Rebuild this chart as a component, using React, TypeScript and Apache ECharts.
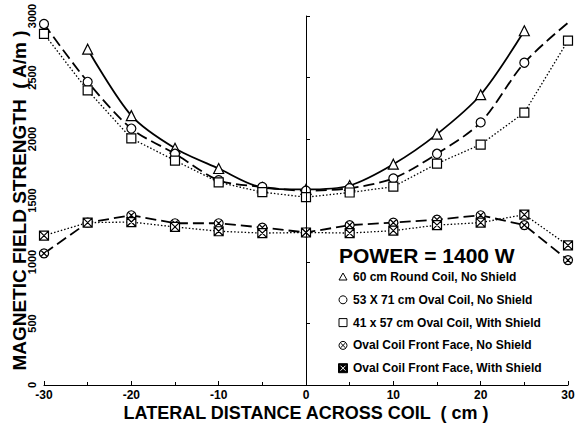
import React, { useEffect, useRef } from "react";
import * as echarts from "echarts";

const xs = [-30, -25, -20, -15, -10, -5, 0, 5, 10, 15, 20, 25, 30];
const roundNoShield = [null, 2730, 2190, 1925, 1760, 1605, 1590, 1622, 1795, 2040, 2360, 2880, null];
const ovalNoShield = [2935, 2465, 2085, 1880, 1665, 1610, 1580, 1600, 1680, 1880, 2135, 2620, 2945];
const ovalWithShield = [2855, 2395, 2005, 1825, 1648, 1568, 1527, 1565, 1612, 1800, 1955, 2215, 2800];
const frontNoShield = [1070, 1320, 1380, 1315, 1315, 1280, 1240, 1300, 1320, 1345, 1380, 1300, 1015];
const frontWithShield = [1215, 1320, 1325, 1285, 1250, 1235, 1240, 1235, 1255, 1300, 1320, 1385, 1135];
const legendLabels = [
  "60 cm Round Coil, No Shield",
  "53 X 71 cm Oval Coil, No Shield",
  "41 x 57 cm Oval Coil, With Shield",
  "Oval Coil Front Face, No Shield",
  "Oval Coil Front Face, With Shield",
];
const powerLabel = "POWER = 1400 W";
const xName = "LATERAL DISTANCE ACROSS COIL  ( cm )";
const yName = "MAGNETIC FIELD STRENGTH  ( A/m )";

const FONT = "'Liberation Sans', Arial, sans-serif";
const CIRCLE_X = "path://M10,0A10,10 0 1,1 9.99,0ZM2.93,2.93L17.07,17.07M17.07,2.93L2.93,17.07";
const SQUARE_X = "path://M0,0H20V20H0ZM0,0L20,20M20,0L0,20";

function pairs(vals: (number | null)[], noSymbolAt: number[] = []) {
  const out: any[] = [];
  vals.forEach((v, i) => {
    if (v === null) return;
    if (noSymbolAt.includes(xs[i])) out.push({ value: [xs[i], v], symbol: "none" });
    else out.push([xs[i], v]);
  });
  return out;
}

export default function App() {
  const ref = useRef<HTMLDivElement>(null);
  useEffect(() => {
    if (!ref.current) return;
    const chart = echarts.init(ref.current, null, { renderer: "svg" });
    const itemStyle = { color: "#fff", borderColor: "#000", borderWidth: 1.2 };
    const legendX = 343;
    const legendY0 = 277;
    const dy = 22.8;
    const graphics: any[] = [
      {
        type: "text",
        x: 339,
        y: 255,
        style: { text: powerLabel, font: `bold 21px ${FONT}`, fill: "#000", textVerticalAlign: "middle" },
      },
    ];
    legendLabels.forEach((t, i) => {
      graphics.push({
        type: "text",
        x: 353,
        y: legendY0 + i * dy,
        style: { text: t, font: `bold 12px ${FONT}`, fill: "#000", textVerticalAlign: "middle" },
      });
    });
    const s = 4;
    const y = (i: number) => legendY0 + i * dy;
    graphics.push(
      {
        type: "polygon",
        shape: { points: [[legendX, y(0) - s], [legendX - s, y(0) + s - 1], [legendX + s, y(0) + s - 1]] },
        style: { fill: "#fff", stroke: "#000", lineWidth: 1 },
      },
      { type: "circle", shape: { cx: legendX, cy: y(1), r: s }, style: { fill: "#fff", stroke: "#000", lineWidth: 1 } },
      { type: "rect", shape: { x: legendX - s, y: y(2) - s, width: 2 * s, height: 2 * s }, style: { fill: "#fff", stroke: "#000", lineWidth: 1 } },
      { type: "circle", shape: { cx: legendX, cy: y(3), r: s }, style: { fill: "#fff", stroke: "#000", lineWidth: 1 } },
      { type: "line", shape: { x1: legendX - 2.8, y1: y(3) - 2.8, x2: legendX + 2.8, y2: y(3) + 2.8 }, style: { stroke: "#000", lineWidth: 1 } },
      { type: "line", shape: { x1: legendX + 2.8, y1: y(3) - 2.8, x2: legendX - 2.8, y2: y(3) + 2.8 }, style: { stroke: "#000", lineWidth: 1 } },
      { type: "rect", shape: { x: legendX - 4.5, y: y(4) - 4.5, width: 9, height: 9 }, style: { fill: "#000", stroke: "#000", lineWidth: 1 } },
      { type: "line", shape: { x1: legendX - 2.5, y1: y(4) - 2.5, x2: legendX + 2.5, y2: y(4) + 2.5 }, style: { stroke: "#fff", lineWidth: 1 } },
      { type: "line", shape: { x1: legendX + 2.5, y1: y(4) - 2.5, x2: legendX - 2.5, y2: y(4) + 2.5 }, style: { stroke: "#fff", lineWidth: 1 } }
    );

    chart.setOption({
      animation: false,
      backgroundColor: "#fff",
      grid: { left: 44, right: 8, top: 16, bottom: 43, containLabel: false, outerBoundsMode: "none" },
      xAxis: {
        type: "value",
        min: -30,
        max: 30,
        interval: 10,
        name: xName,
        nameLocation: "middle",
        nameGap: 19,
        nameMoveOverlap: false,
        nameTextStyle: { fontFamily: FONT, fontWeight: "bold", fontSize: 18, color: "#000", verticalAlign: "top" },
        axisLine: { show: true, lineStyle: { color: "#000", width: 1 } },
        axisTick: { show: true, inside: true, length: 4, lineStyle: { color: "#000" } },
        minorTick: { show: true, splitNumber: 2, length: 3, lineStyle: { color: "#000" } },
        axisLabel: { fontFamily: FONT, fontWeight: "bold", fontSize: 12, color: "#000", margin: 4 },
        splitLine: { show: false },
      },
      yAxis: {
        type: "value",
        min: 0,
        max: 3000,
        interval: 500,
        name: yName,
        nameLocation: "middle",
        nameGap: 15,
        nameMoveOverlap: false,
        nameTextStyle: { fontFamily: FONT, fontWeight: "bold", fontSize: 19, color: "#000" },
        axisLine: { show: true, lineStyle: { color: "#000", width: 1 } },
        axisTick: { show: true, inside: true, length: 4, lineStyle: { color: "#000" } },
        axisLabel: {
          fontFamily: FONT,
          fontWeight: "bold",
          fontSize: 11,
          color: "#000",
          rotate: 90,
          margin: 7,
          formatter: (v: number) => String(v),
        },
        splitLine: { show: false },
      },
      graphic: graphics,
      series: [
        {
          name: legendLabels[0],
          type: "line",
          data: pairs(roundNoShield),
          smooth: 0.3,
          symbol: "triangle",
          symbolSize: 10,
          itemStyle,
          lineStyle: { color: "#000", width: 1.8, type: "solid" },
          clip: false,
          z: 3,
          markLine: {
            silent: true,
            symbol: "none",
            label: { show: false },
            lineStyle: { color: "#000", width: 1, type: "solid" },
            data: [{ xAxis: 0 }],
          },
        },
        {
          name: legendLabels[1],
          type: "line",
          data: pairs(ovalNoShield, [30]),
          smooth: 0.3,
          symbol: "circle",
          symbolSize: 9,
          itemStyle,
          lineStyle: { color: "#000", width: 1.8, type: [11, 5] },
          clip: false,
          z: 3,
        },
        {
          name: legendLabels[2],
          type: "line",
          data: pairs(ovalWithShield),
          symbol: "rect",
          symbolSize: 9,
          itemStyle,
          lineStyle: { color: "#000", width: 1.3, type: [1.5, 2] },
          clip: false,
          z: 3,
        },
        {
          name: legendLabels[3],
          type: "line",
          data: pairs(frontNoShield),
          symbol: CIRCLE_X,
          symbolSize: 9,
          itemStyle,
          lineStyle: { color: "#000", width: 1.8, type: [11, 5] },
          clip: false,
          z: 3,
        },
        {
          name: legendLabels[4],
          type: "line",
          data: pairs(frontWithShield),
          symbol: SQUARE_X,
          symbolSize: 9,
          itemStyle,
          lineStyle: { color: "#000", width: 1.3, type: [1.5, 2] },
          clip: false,
          z: 3,
        },
      ],
    });
    return () => chart.dispose();
  }, []);
  return (
    <div
      ref={ref}
      style={{ position: "fixed", left: 0, top: 0, width: 576, height: 428, background: "#fff" }}
    />
  );
}
